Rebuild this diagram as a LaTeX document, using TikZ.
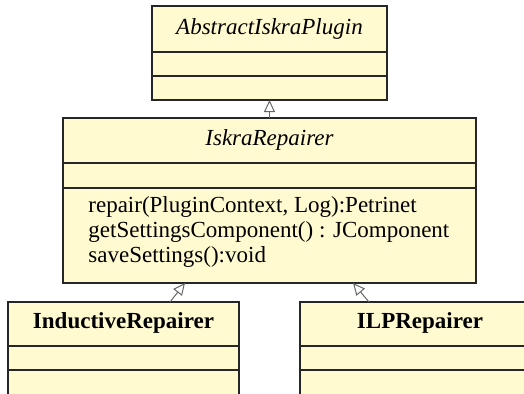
\documentclass[tikz,border=0pt]{standalone}
\usepackage{fontspec}
\setmainfont{Liberation Serif}
\usetikzlibrary{arrows.meta,positioning}
\definecolor{umlfill}{RGB}{255,250,208}
\tikzset{
  classbox/.style={draw=black!85, fill=umlfill, line width=0.75pt,
                   anchor=north west, inner sep=0pt, outer sep=0pt},
  classname/.style={font=\fontsize{11.5}{12.5}\selectfont, inner sep=0pt},
  opslist/.style={font=\fontsize{11.5}{12.5}\selectfont, align=left,
                  anchor=west, inner sep=0pt},
  divider/.style={draw=black!85, line width=0.75pt},
  genarrow/.style={-{Triangle[open,length=6pt,width=5.5pt]},
                   draw=black!60, line width=0.5pt}
}
\begin{document}
\begin{tikzpicture}[x=0.5pt, y=-0.5pt]
    \useasboundingbox (0,0) rectangle (524,393);
    \clip (0,0) rectangle (524,393);

    % AbstractIskraPlugin
    \node[classbox, minimum width=117.5pt, minimum height=47pt] (A) at (152,6) {};
    \node[classname, font=\fontsize{11.5}{12.5}\selectfont\itshape] (Aname) at (269.5,29) {AbstractIskraPlugin};
    \draw[divider] (152,52) -- (387,52);
    \draw[divider] (152,76) -- (387,76);

    % IskraRepairer
    \node[classbox, minimum width=206.5pt, minimum height=82.5pt] (R) at (63,118) {};
    \node[classname, font=\fontsize{11.5}{12.5}\selectfont\itshape] (Rname) at (269.5,140) {IskraRepairer};
    \draw[divider] (63,163) -- (476,163);
    \draw[divider] (63,188) -- (476,188);
    \node[opslist] (Rops) at (88,232) {repair(PluginContext, Log):Petrinet\\
      getSettingsComponent() : JComponent\\
      saveSettings():void};

    % InductiveRepairer
    \node[classbox, minimum width=115.5pt, minimum height=60pt] (I) at (8,302) {};
    \node[classname, font=\fontsize{11.5}{12.5}\selectfont\bfseries] (Iname) at (123.5,323) {InductiveRepairer};
    \draw[divider] (8,346) -- (239,346);
    \draw[divider] (8,370) -- (239,370);

    % ILPRepairer
    \node[classbox, minimum width=120pt, minimum height=60pt] (L) at (300,302) {};
    \node[classname, font=\fontsize{11.5}{12.5}\selectfont\bfseries] (Lname) at (420,323) {ILPRepairer};
    \draw[divider] (300,346) -- (540,346);
    \draw[divider] (300,370) -- (540,370);

    % generalisation
    \coordinate (Ibase) at ([xshift=23.25pt]I.north);
    \coordinate (Rleft) at ([xshift=-42.25pt]R.south);
    \coordinate (Lbase) at ([xshift=-25.5pt]L.north);
    \coordinate (Rright) at ([xshift=41.75pt]R.south);
    \draw[genarrow] (R.north) -- (A.south);
    \draw[genarrow] (Ibase) -- (Rleft);
    \draw[genarrow] (Lbase) -- (Rright);
\end{tikzpicture}
\end{document}
